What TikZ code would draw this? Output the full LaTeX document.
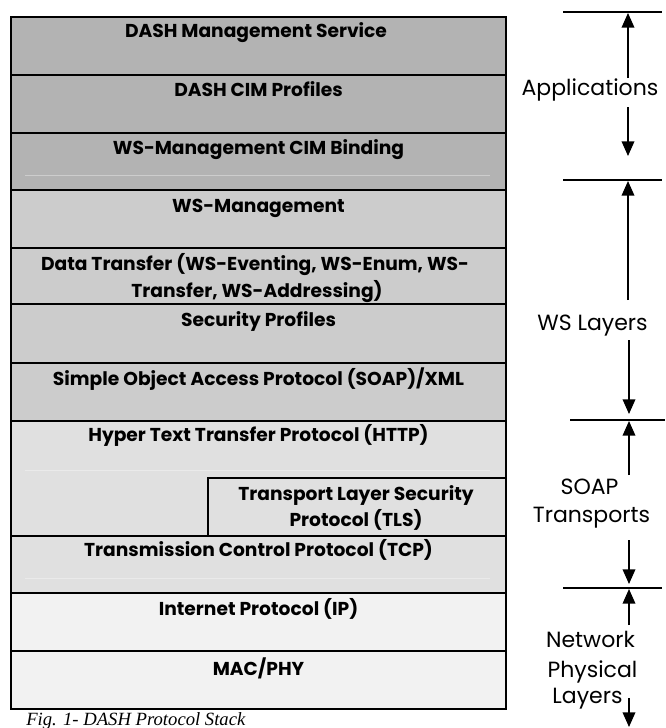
\documentclass[tikz,border=0pt]{standalone}
\usepackage{fontspec}
\newfontfamily\capfont{Liberation Serif}
\newfontfamily\gothic{Poppins}
\usetikzlibrary{arrows.meta}
\definecolor{cdark}{HTML}{B3B3B3}
\definecolor{cmid}{HTML}{CCCCCC}
\definecolor{clight}{HTML}{E0E0E0}
\definecolor{cpale}{HTML}{F2F2F2}
\tikzset{
  rule/.style={draw=black, line width=1.5pt},
  faint/.style={draw=white, draw opacity=0.35, line width=0.6pt},
  boxtxt/.style={anchor=base, inner sep=0pt, align=center, font=\gothic\bfseries\fontsize{14}{20.25}\selectfont},
  sidetxt/.style={anchor=base, inner sep=0pt, align=center, font=\gothic\fontsize{16.5}{24}\selectfont},
  sep/.style={draw=black, line width=1.1pt},
  marker/.style={draw=black, line width=1.1pt, -{Triangle[length=11pt,width=9.5pt]}},
}
\begin{document}
\begin{tikzpicture}[x=0.75pt,y=-0.75pt]
\useasboundingbox (0,0) rectangle (665,728);
% fills
\fill[cdark] (11,16.5) rectangle (506,189.5);
\fill[cmid] (11,189.5) rectangle (506,420.7);
\fill[clight] (11,420.7) rectangle (506,593);
\fill[cpale] (11,593) rectangle (506,708.7);
% faint lines
\draw[faint] (25,175) -- (490,175);
\draw[faint] (25,470) -- (490,470);
\draw[faint] (25,578) -- (490,578);
% frame and dividers
\foreach \y in {74.5,133,189.5,247.5,304,362.7,420.7,536,593,650.7}
  \draw[rule] (11,\y) -- (506,\y);
\draw[rule] (208,536) |- (506,477.7);
\draw[rule] (11,16.5) rectangle (506,708.7);
% layer texts
\node[boxtxt] (dms) at (256,37.5) {DASH Management Service};
\node[boxtxt] (cimp) at (258.5,96.5) {DASH CIM Profiles};
\node[boxtxt] (cimb) at (258.5,154.5) {WS-Management CIM Binding};
\node[boxtxt] (wsman) at (258.5,212.5) {WS-Management};
\node[boxtxt] (dt1) at (255,270) {Data Transfer (WS-Eventing, WS-Enum, WS-};
\node[boxtxt] (dt2) at (257,297) {Transfer, WS-Addressing)};
\node[boxtxt] (sec) at (258.5,326.5) {Security Profiles};
\node[boxtxt] (soap) at (258.5,385) {Simple Object Access Protocol (SOAP)/XML};
\node[boxtxt] (http) at (258.5,441.5) {Hyper Text Transfer Protocol (HTTP)};
\node[boxtxt] (tls1) at (356,500) {Transport Layer Security};
\node[boxtxt] (tls2) at (356,526.5) {Protocol (TLS)};
\node[boxtxt] (tcp) at (258.5,556.5) {Transmission Control Protocol (TCP)};
\node[boxtxt] (ip) at (258.5,615.5) {Internet Protocol (IP)};
\node[boxtxt] (mac) at (258.5,675) {MAC/PHY};
% caption
\node[anchor=base west, inner sep=0pt, font=\capfont\itshape\fontsize{14}{17}\selectfont] (cap) at (26,725) {Fig. 1- DASH Protocol Stack};
% right side markers
\coordinate (la1) at (563,12);  \coordinate (la2) at (662,12);
\coordinate (lb1) at (563,180); \coordinate (lb2) at (662,180);
\coordinate (lc1) at (570,420); \coordinate (lc2) at (665,420);
\coordinate (ld1) at (563,588); \coordinate (ld2) at (662,588);
\draw[sep] (la1) -- (la2);
\draw[sep] (lb1) -- (lb2);
\draw[sep] (lc1) -- (lc2);
\draw[sep] (ld1) -- (ld2);
\node[sidetxt] (app) at (590,95) {Applications};
\node[sidetxt] (wsl) at (592.5,330) {WS Layers};
\node[sidetxt] (soapt) at (589.5,494) {SOAP};
\node[sidetxt] (trans) at (591.5,522) {Transports};
\node[sidetxt] (net) at (590.5,647) {Network};
\node[sidetxt] (phy) at (592.5,677) {Physical};
\node[sidetxt] (lay) at (587.5,703.5) {Layers};
\coordinate (a1s) at (628,78);  \coordinate (a1e) at (628,13);
\coordinate (a2s) at (628,107); \coordinate (a2e) at (628,156);
\coordinate (a3s) at (628,300); \coordinate (a3e) at (628,181);
\coordinate (a4s) at (629,340); \coordinate (a4e) at (629,414);
\coordinate (a5s) at (629,475); \coordinate (a5e) at (629,421);
\coordinate (a6s) at (629,540); \coordinate (a6e) at (629,584);
\coordinate (a7s) at (629,625); \coordinate (a7e) at (629,589);
\coordinate (a8s) at (629,698); \coordinate (a8e) at (629,727);
\draw[marker] (a1s) -- (a1e);
\draw[marker] (a2s) -- (a2e);
\draw[marker] (a3s) -- (a3e);
\draw[marker] (a4s) -- (a4e);
\draw[marker] (a5s) -- (a5e);
\draw[marker] (a6s) -- (a6e);
\draw[marker] (a7s) -- (a7e);
\draw[marker] (a8s) -- (a8e);
\end{tikzpicture}
\end{document}
